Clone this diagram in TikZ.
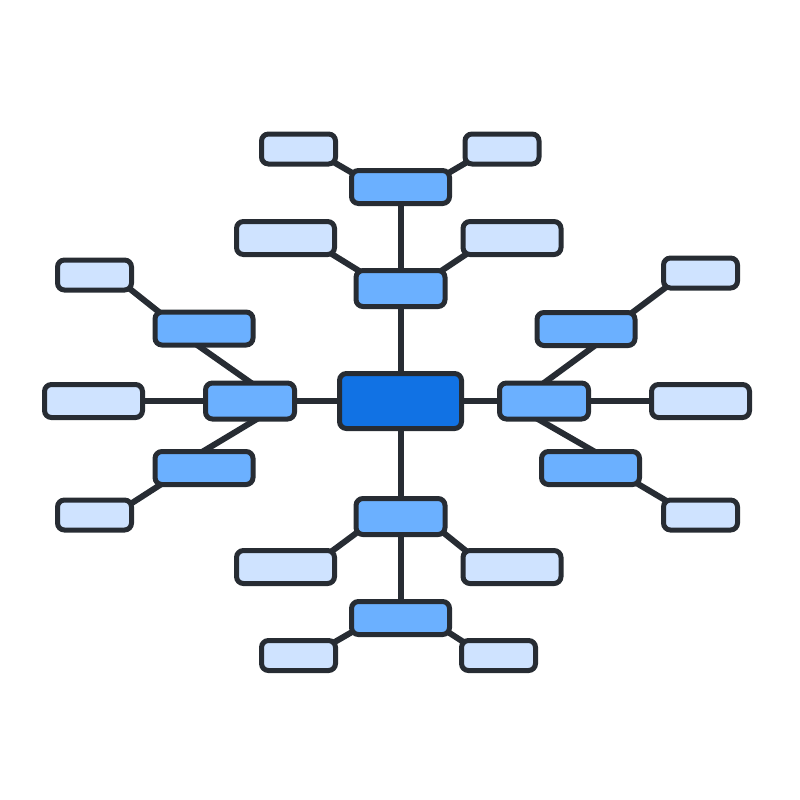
\documentclass[tikz,border=0pt]{standalone}
\definecolor{edgec}{RGB}{39,44,51}
\definecolor{leafc}{RGB}{207,227,255}
\definecolor{midc}{RGB}{107,176,255}
\definecolor{corec}{RGB}{17,114,228}
\pgfdeclarelayer{bg}
\pgfsetlayers{bg,main}
\begin{document}
\begin{tikzpicture}[x=1pt,y=-1pt,
  box/.style={draw=edgec,line width=5pt,rounded corners=7pt,inner sep=0pt},
  leafS/.style={box,fill=leafc,minimum width=74pt,minimum height=30pt},
  leafL/.style={box,fill=leafc,minimum width=98pt,minimum height=33pt},
  midN/.style={box,fill=midc,minimum width=89pt,minimum height=36pt},
  midW/.style={box,fill=midc,minimum width=98pt,minimum height=33pt},
  core/.style={box,fill=corec,minimum width=122pt,minimum height=55pt},
  link/.style={draw=edgec,line width=6pt}]
\useasboundingbox (0,0) rectangle (800,800);
% core
\node[core] (c) at (400.5,401) {};
% top branch
\node[midN] (n2) at (400.5,288.5) {};
\node[midW] (n1) at (400.5,187) {};
\node[leafS] (tl) at (298.5,149) {};
\node[leafS] (tr) at (502,149) {};
\node[leafL] (ml) at (285.5,238) {};
\node[leafL] (mr) at (512,238) {};
% bottom branch
\node[midN] (b1) at (400.5,516.5) {};
\node[midW] (b2) at (400.5,618) {};
\node[leafL] (bl1) at (285.5,567) {};
\node[leafL] (br1) at (512,567) {};
\node[leafS] (bl2) at (298.5,655.5) {};
\node[leafS] (br2) at (498.5,655.5) {};
% left branch
\node[midN] (lm) at (250,401) {};
\node[midW] (lu) at (204,328.5) {};
\node[midW] (ll) at (204,468) {};
\node[leafL] (lf) at (93.5,401) {};
\node[leafS] (l1) at (94.5,275) {};
\node[leafS] (l2) at (94.5,515) {};
% right branch
\node[midN] (rm) at (544,401) {};
\node[midW] (ru) at (586,329) {};
\node[midW] (rl) at (590.5,468) {};
\node[leafL] (rf) at (700.5,401) {};
\node[leafS] (r1) at (700.5,273) {};
\node[leafS] (r2) at (700.5,515) {};
\begin{pgfonlayer}{bg}
% top
\draw[link] (c.center) -- (n2.center) -- (n1.center);
\draw[link] ([shift={(23.5,6.4)}]tl.center) -- ([shift={(-35,-6.4)}]n1.center);
\draw[link] ([shift={(-23.5,6.4)}]tr.center) -- ([shift={(35,-6.4)}]n1.center);
\draw[link] ([shift={(34.3,8.6)}]ml.center) -- ([shift={(-32.5,-12.1)}]n2.center);
\draw[link] ([shift={(-34.3,8.6)}]mr.center) -- ([shift={(32.5,-12.1)}]n2.center);
% bottom
\draw[link] (c.center) -- (b1.center) -- (b2.center);
\draw[link] ([shift={(-34.4,9.3)}]b1.center) -- ([shift={(36.9,-8.8)}]bl1.center);
\draw[link] ([shift={(34.4,9.3)}]b1.center) -- ([shift={(-36.9,-8.8)}]br1.center);
\draw[link] ([shift={(-38.1,8)}]b2.center) -- ([shift={(24.1,-6.5)}]bl2.center);
\draw[link] ([shift={(38.1,8)}]b2.center) -- ([shift={(-24.1,-6.5)}]br2.center);
% left
\draw[link] (c.center) -- (lm.center) -- (lf.center);
\draw[link] ([shift={(6.8,-14.1)}]lm.center) -- ([shift={(-13.8,11.6)}]lu.center);
\draw[link] ([shift={(-35.6,-9)}]lu.center) -- ([shift={(26.1,6.5)}]l1.center);
\draw[link] ([shift={(12.3,14.8)}]lm.center) -- ([shift={(-7.3,-12.8)}]ll.center);
\draw[link] ([shift={(-33.9,10.5)}]ll.center) -- ([shift={(27.4,-5.5)}]l2.center);
% right
\draw[link] (c.center) -- (rm.center) -- (rf.center);
\draw[link] ([shift={(-5.7,-13.9)}]rm.center) -- ([shift={(16.7,10.9)}]ru.center);
\draw[link] ([shift={(37.4,-9.8)}]ru.center) -- ([shift={(-25.9,7.8)}]r1.center);
\draw[link] ([shift={(-11.4,15)}]rm.center) -- ([shift={(9.9,-13)}]rl.center);
\draw[link] ([shift={(37.2,9.9)}]rl.center) -- ([shift={(-25.2,-8.9)}]r2.center);
\end{pgfonlayer}
\end{tikzpicture}
\end{document}
